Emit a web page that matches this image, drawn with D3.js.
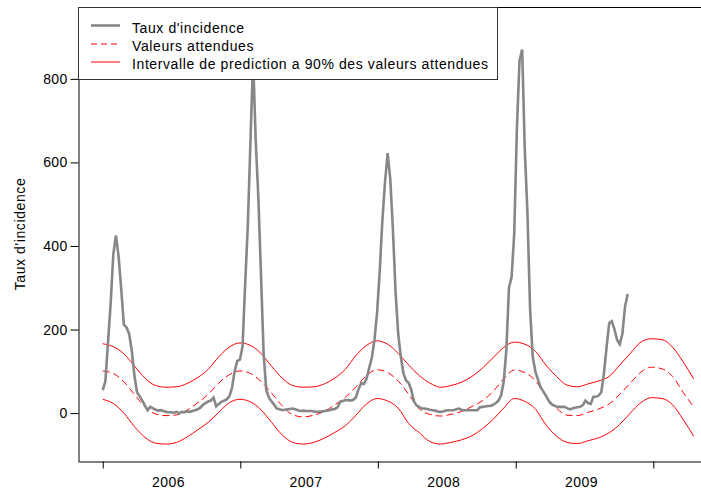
<!DOCTYPE html>
<html><head><meta charset="utf-8">
<script src="https://cdn.jsdelivr.net/npm/d3@7"></script>
<style>
body{margin:0;background:#fff}
svg{display:block}
text{font-family:"Liberation Sans",Arial,sans-serif;fill:#000}
</style>
</head><body>
<svg id="chart" width="701" height="490"></svg>
<script>
// ---------- DATA ----------
const seriesStart = "2006-01-01";   // weekly incidence, first week
const seriesStepDays = 7;
const incidence = [
  55, 76, 170, 262, 380, 425, 375, 298, 212, 205,
  190, 150, 90, 50, 40, 30, 18, 7, 15, 12,
  8, 6, 7, 5, 3, 2, 2, 1, 3, 0,
  3, 2, 4, 3, 5, 7, 9, 13, 20, 24,
  28, 30, 37, 16, 22, 27, 30, 33, 40, 60,
  100, 125, 128, 160, 310, 450, 650, 850, 650, 515,
  330, 140, 55, 37, 28, 20, 11, 9, 7, 8,
  9, 10, 11, 9, 7, 5, 6, 5, 5, 5,
  4, 3, 3, 4, 5, 6, 7, 9, 10, 14,
  27, 29, 31, 31, 30, 32, 38, 58, 72, 70,
  82, 108, 132, 175, 240, 340, 460, 552, 622, 560,
  440, 290, 190, 135, 95, 78, 72, 55, 28, 18,
  15, 11, 11, 10, 8, 7, 6, 4, 3, 4,
  6, 7, 7, 7, 9, 11, 8, 7, 7, 7,
  7, 7, 7, 14, 15, 16, 17, 17, 20, 24,
  30, 42, 75, 150, 300, 326, 430, 680, 845, 870,
  630, 480, 250, 135, 100, 80, 62, 52, 42, 30,
  22, 18, 16, 15, 15, 15, 12, 9, 11, 13,
  14, 15, 19, 30, 24, 22, 39, 39, 42, 50,
  95, 158, 215, 220, 200, 175, 165, 190, 255, 285
];

const expStart = "2006-01-01";      // expected values, every 4 weeks
const expStepDays = 28;
const expected = [
  101, 95, 75, 45, 15, -2, -6, -4, 7, 25,
  45, 72, 92, 101, 95, 76, 48, 18, -4, -9,
  -5, 4, 20, 38, 63, 90, 104, 97, 77, 45,
  10, -3, -7, -3, 4, 16, 30, 52, 82, 103,
  97, 78, 40, 12, -5, -6, 2, 10, 22, 45,
  72, 98, 110, 106, 88, 50, 15
];
const upper = [
  166, 159, 142, 113, 84, 66, 62, 63, 71, 85,
  105, 135, 158, 168, 162, 143, 112, 84, 66, 62,
  63, 70, 84, 105, 138, 162, 173, 165, 143, 115,
  90, 72, 62, 66, 74, 88, 108, 133, 157, 170,
  165, 148, 115, 88, 67, 63, 70, 77, 88, 115,
  143, 170, 178, 176, 158, 123, 82
];
const lower = [
  33, 23, 0, -32, -58, -72, -74, -70, -57, -40,
  -22, 2, 25, 33, 27, 8, -22, -52, -70, -74,
  -70, -60, -46, -30, -5, 22, 35, 29, 12, -25,
  -47, -68, -74, -70, -64, -54, -37, -15, 12, 35,
  28, 10, -28, -55, -70, -73, -66, -59, -47, -27,
  0, 25, 37, 35, 20, -15, -55
];

const yTicks = [0, 200, 400, 600, 800];
const yearTicks = ["2006-01-01", "2007-01-01", "2008-01-01", "2009-01-01", "2010-01-01"];
const yearLabels = ["2006", "2007", "2008", "2009"];
const yTitle = "Taux d'incidence";
const legendLabels = [
  "Taux d'incidence",
  "Valeurs attendues",
  "Intervalle de prediction a 90% des valeurs attendues"
];

// ---------- LAYOUT ----------
(function () {
const mLeft = 79, mRight = 701, mTop = 7, mBottom = 462;
const DAY = 86400000;
const FONT = '"Liberation Sans",Arial,sans-serif';
const svg = d3.select("#chart");

const x = d3.scaleUtc()
  .domain([new Date("2005-10-30T00:00:00Z"), new Date("2010-05-07T14:00:00Z")])
  .range([mLeft, mRight]);
const y = d3.scaleLinear().domain([-117, 972]).range([mBottom, mTop]);

const t0 = new Date(seriesStart + "T00:00:00Z").getTime();
const e0 = new Date(expStart + "T00:00:00Z").getTime();
const incData = incidence.map((v, i) => ({d: new Date(t0 + i * seriesStepDays * DAY), v}));
const mk = arr => arr.map((v, i) => ({d: new Date(e0 + i * expStepDays * DAY), v}));

svg.append("defs").append("clipPath").attr("id", "clip")
  .append("rect").attr("x", mLeft).attr("y", mTop).attr("width", mRight - mLeft).attr("height", mBottom - mTop);

const plot = svg.append("g").attr("clip-path", "url(#clip)");

const lineSmooth = d3.line().x(d => x(d.d)).y(d => y(d.v)).curve(d3.curveMonotoneX);
const lineStraight = d3.line().x(d => x(d.d)).y(d => y(d.v));

plot.append("path").datum(mk(upper)).attr("d", lineSmooth)
  .attr("fill", "none").attr("stroke", "#ff0000").attr("stroke-width", 1);
plot.append("path").datum(mk(lower)).attr("d", lineSmooth)
  .attr("fill", "none").attr("stroke", "#ff0000").attr("stroke-width", 1);
plot.append("path").datum(mk(expected)).attr("d", lineSmooth)
  .attr("fill", "none").attr("stroke", "#ff0000").attr("stroke-width", 1)
  .attr("stroke-dasharray", "7,4");
plot.append("path").datum(incData).attr("d", lineStraight)
  .attr("fill", "none").attr("stroke", "#878787").attr("stroke-width", 2.6);

// axes
const yAxis = d3.axisLeft(y).tickValues(yTicks).tickSize(8).tickPadding(3).tickSizeOuter(0);
const gy = svg.append("g").attr("transform", `translate(${mLeft - 0.5},0)`).call(yAxis);
gy.selectAll("text").style("font-size", "14px").style("font-family", FONT).style("letter-spacing", "0.3px");
gy.selectAll("line,path").attr("stroke", "#000");

const xAxis = d3.axisBottom(x).tickValues(yearTicks.map(s => new Date(s + "T00:00:00Z")))
  .tickSize(7).tickFormat("").tickSizeOuter(0);
const gx = svg.append("g").attr("transform", `translate(0,${mBottom - 0.5})`).call(xAxis);
gx.selectAll("line,path").attr("stroke", "#000");

// top frame
svg.append("line").attr("x1", mLeft - 0.5).attr("x2", mRight).attr("y1", mTop + 0.5).attr("y2", mTop + 0.5)
  .attr("stroke", "#000");

// year labels
yearLabels.forEach((lab, i) => {
  const a = x(new Date(yearTicks[i] + "T00:00:00Z")), b = x(new Date(yearTicks[i + 1] + "T00:00:00Z"));
  svg.append("text").attr("x", (a + b) / 2 - 3).attr("y", 487)
    .attr("text-anchor", "middle").style("font-size", "14px").style("letter-spacing", "0.5px").text(lab);
});

// y title
svg.append("text").attr("transform", "translate(25,234) rotate(-90)")
  .attr("text-anchor", "middle").style("font-size", "14px").style("letter-spacing", "0.6px").text(yTitle);

// legend
const lg = svg.append("g");
lg.append("rect").attr("x", mLeft - 0.5).attr("y", mTop + 0.5).attr("width", 419).attr("height", 72)
  .attr("fill", "#fff").attr("stroke", "#333");
const rowsY = [25.5, 44, 62];
const styles = [
  {stroke: "#878787", w: 2.6, dash: null},
  {stroke: "#ff0000", w: 1, dash: "6,4"},
  {stroke: "#ff0000", w: 1, dash: null}
];
legendLabels.forEach((lab, i) => {
  const l = lg.append("line").attr("x1", 91).attr("x2", 120).attr("y1", rowsY[i]).attr("y2", rowsY[i])
    .attr("stroke", styles[i].stroke).attr("stroke-width", styles[i].w);
  if (styles[i].dash) l.attr("stroke-dasharray", styles[i].dash);
  lg.append("text").attr("x", 132).attr("y", [33, 51, 69][i]).style("font-size", "14px")
    .style("letter-spacing", "0.6px").text(lab);
});
})();
</script>
</body></html>
